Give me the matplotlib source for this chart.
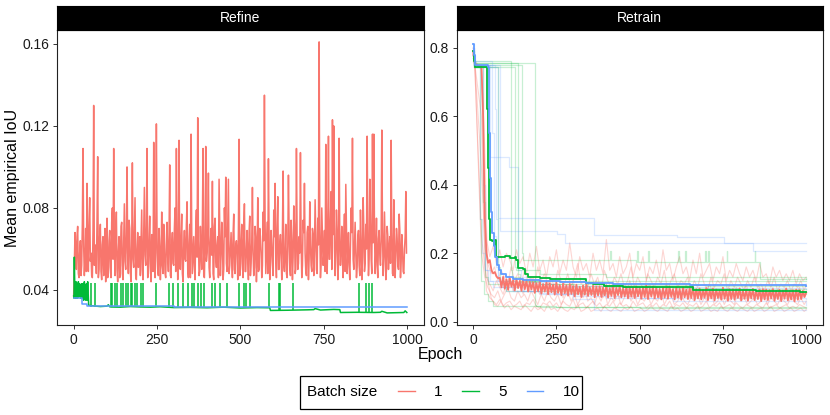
import matplotlib.pyplot as plt
from matplotlib.lines import Line2D
from matplotlib.patches import Rectangle
import numpy as np

plt.rcParams['font.family'] = ['Liberation Sans', 'DejaVu Sans']

ROJO = '#F8766D'
VERDE = '#00BA38'
AZUL = '#619CFF'

# ---------------- panel Refine ----------------
# batch 1: epocas 0,4,8,... y epocas intermedias 2,6,10,...
refine_b1 = [
    0.037, 0.068, 0.050, 0.071, 0.046, 0.064, 0.052, 0.109, 0.047, 0.070,
    0.092, 0.049, 0.085, 0.058, 0.046, 0.130, 0.062, 0.048, 0.105, 0.050,
    0.072, 0.045, 0.066, 0.057, 0.044, 0.075, 0.048, 0.069, 0.046, 0.080,
    0.109, 0.047, 0.078, 0.044, 0.066, 0.052, 0.073, 0.045, 0.082, 0.050,
    0.100, 0.048, 0.070, 0.044, 0.102, 0.051, 0.085, 0.045, 0.068, 0.056,
    0.047, 0.079, 0.045, 0.090, 0.052, 0.109, 0.048, 0.076, 0.044, 0.064,
    0.112, 0.046, 0.121, 0.050, 0.070, 0.045, 0.078, 0.048, 0.062, 0.046,
    0.073, 0.049, 0.101, 0.046, 0.068, 0.052, 0.080, 0.109, 0.045, 0.113,
    0.050, 0.077, 0.044, 0.069, 0.054, 0.083, 0.046, 0.072, 0.116, 0.048,
    0.066, 0.045, 0.079, 0.124, 0.047, 0.071, 0.050, 0.109, 0.046, 0.110,
    0.058, 0.097, 0.046, 0.070, 0.093, 0.045, 0.075, 0.051, 0.066, 0.094,
    0.047, 0.073, 0.045, 0.080, 0.095, 0.049, 0.094, 0.052, 0.068, 0.046,
    0.077, 0.048, 0.064, 0.045, 0.1135, 0.050, 0.072, 0.046, 0.082, 0.049,
    0.069, 0.045, 0.076, 0.053, 0.090, 0.047, 0.071, 0.044, 0.085, 0.050,
    0.066, 0.046, 0.078, 0.135, 0.048, 0.073, 0.104, 0.045, 0.069, 0.052,
    0.079, 0.092, 0.046, 0.0855, 0.050, 0.067, 0.045, 0.098, 0.049, 0.072,
    0.046, 0.096, 0.051, 0.074, 0.045, 0.081, 0.048, 0.109, 0.050, 0.066,
    0.107, 0.046, 0.074, 0.092, 0.049, 0.068, 0.045, 0.083, 0.052, 0.070,
    0.047, 0.084, 0.050, 0.075, 0.161, 0.046, 0.080, 0.052, 0.069, 0.111,
    0.048, 0.115, 0.055, 0.088, 0.123, 0.120, 0.047, 0.079, 0.045, 0.114,
    0.052, 0.071, 0.046, 0.077, 0.0915, 0.048, 0.068, 0.045, 0.080, 0.114,
    0.050, 0.073, 0.046, 0.066, 0.052, 0.079, 0.045, 0.085, 0.049, 0.072,
    0.115, 0.047, 0.094, 0.055, 0.116, 0.116, 0.048, 0.075, 0.046, 0.069,
    0.052, 0.118, 0.047, 0.078, 0.045, 0.071, 0.050, 0.066, 0.113, 0.048,
    0.084, 0.046, 0.070, 0.052, 0.077, 0.046, 0.067, 0.049, 0.060, 0.088,
]
refine_b1_mid = [
    0.052, 0.060, 0.066, 0.048, 0.058, 0.047, 0.072, 0.061, 0.055, 0.049,
    0.063, 0.071, 0.054, 0.047, 0.069, 0.052, 0.058, 0.074, 0.046, 0.066,
    0.049, 0.062, 0.047, 0.070, 0.058, 0.046, 0.064, 0.051, 0.073, 0.055,
    0.061, 0.068, 0.050, 0.059, 0.046, 0.071, 0.048, 0.063, 0.054, 0.067,
    0.058, 0.074, 0.049, 0.062, 0.055, 0.068, 0.047, 0.060, 0.051, 0.066,
    0.063, 0.050, 0.069, 0.057, 0.071, 0.046, 0.064, 0.053, 0.067, 0.049,
    0.070, 0.058, 0.066, 0.047, 0.061, 0.055, 0.052, 0.072, 0.048, 0.064,
    0.056, 0.067, 0.047, 0.062, 0.053, 0.070, 0.049, 0.065, 0.058, 0.051,
    0.066, 0.048, 0.061, 0.055, 0.072, 0.050, 0.063, 0.046, 0.068, 0.057,
    0.052, 0.070, 0.056, 0.064, 0.049, 0.059, 0.073, 0.047, 0.065, 0.054,
    0.068, 0.051, 0.063, 0.057, 0.048, 0.071, 0.055, 0.062, 0.046, 0.069,
    0.057, 0.064, 0.050, 0.066, 0.053, 0.072, 0.048, 0.060, 0.055, 0.067,
    0.050, 0.062, 0.058, 0.069, 0.047, 0.064, 0.053, 0.071, 0.049, 0.060,
    0.055, 0.068, 0.047, 0.063, 0.058, 0.051, 0.066, 0.056, 0.049, 0.070,
    0.058, 0.052, 0.064, 0.073, 0.061, 0.048, 0.067, 0.054, 0.062, 0.047,
    0.066, 0.055, 0.070, 0.050, 0.063, 0.057, 0.068, 0.052, 0.059, 0.048,
    0.061, 0.069, 0.047, 0.064, 0.056, 0.072, 0.050, 0.066, 0.053, 0.058,
    0.064, 0.052, 0.068, 0.058, 0.047, 0.071, 0.055, 0.062, 0.049, 0.067,
    0.059, 0.066, 0.048, 0.062, 0.070, 0.053, 0.065, 0.057, 0.049, 0.072,
    0.063, 0.055, 0.074, 0.050, 0.067, 0.061, 0.058, 0.069, 0.052, 0.064,
    0.060, 0.054, 0.066, 0.049, 0.071, 0.057, 0.052, 0.063, 0.068, 0.055,
    0.062, 0.058, 0.051, 0.069, 0.047, 0.064, 0.056, 0.070, 0.053, 0.060,
    0.067, 0.055, 0.072, 0.048, 0.063, 0.069, 0.058, 0.052, 0.065, 0.057,
    0.064, 0.070, 0.056, 0.061, 0.050, 0.066, 0.059, 0.053, 0.068, 0.047,
    0.062, 0.057, 0.065, 0.050, 0.069, 0.054, 0.060, 0.048, 0.066, 0.058,
]
refine_ep1 = np.arange(0, 1000, 2)
refine_v1 = np.empty(len(refine_ep1))
refine_v1[0::2] = refine_b1
refine_v1[1::2] = refine_b1_mid

# batch 5: linea base + picos
refine_ep5 = [0, 1, 2, 3, 5, 7, 8, 10, 12, 14, 16, 18, 20, 22, 24, 26, 28, 30, 32, 34,
              36, 38, 40, 42, 45, 60, 80, 100, 104, 108, 112, 140, 170, 200, 230,
              260, 300, 350, 400, 450, 500, 550, 588, 590, 640, 700, 720, 724, 740,
              780, 798, 800, 850, 900, 920, 924, 940, 990, 994, 999]
refine_b5 = [0.037, 0.036, 0.056, 0.044, 0.036, 0.044, 0.036, 0.043, 0.036, 0.044,
             0.037, 0.043, 0.036, 0.036, 0.043, 0.036, 0.043, 0.035, 0.044, 0.036,
             0.035, 0.043, 0.035, 0.044, 0.0325, 0.0322, 0.0319, 0.0321, 0.0328, 0.0318,
             0.0317, 0.0316, 0.0319, 0.0317, 0.0316, 0.0318, 0.0314, 0.0315, 0.0313, 0.0316,
             0.0312, 0.0314, 0.0313, 0.0300, 0.0301, 0.0303, 0.0304, 0.0309, 0.0302, 0.0305,
             0.0304, 0.0290, 0.0291, 0.0290, 0.0291, 0.0296, 0.0288, 0.0290, 0.0298, 0.0290]
picos_ep5 = [53, 65, 111, 116, 124, 130, 141, 149, 157, 164, 172, 176, 184, 189, 201,
             208, 248, 286, 298, 313, 327, 342, 355, 362, 372, 382, 392, 415, 425, 440,
             460, 496, 511, 516, 528, 587, 617, 620, 658, 855, 876, 886, 895]
picos_base5 = [0.0318] * 19 + [0.0314] * 17 + [0.0301] * 3 + [0.0291] * 4
pico_top5 = 0.0435

# batch 10
refine_ep10 = [0, 24, 40, 300, 1000]
refine_b10 = [0.036, 0.0333, 0.0322, 0.0318, 0.0318]

# ---------------- panel Retrain ----------------
media_ep1 = np.arange(0, 1001, 5)
media_b1 = [
    0.790, 0.755, 0.750, 0.748, 0.747, 0.745, 0.600, 0.300, 0.200, 0.172, 0.180, 0.150, 0.141, 0.145, 0.132, 0.127,
    0.128, 0.100, 0.131, 0.096, 0.124, 0.093, 0.127, 0.102, 0.121, 0.091, 0.125, 0.098, 0.119, 0.090, 0.123, 0.095, 0.120, 0.088, 0.117, 0.094,
    0.115, 0.084, 0.113, 0.089, 0.118, 0.082, 0.110, 0.088, 0.115, 0.080, 0.112, 0.086, 0.108, 0.079, 0.114, 0.084, 0.107, 0.077, 0.111, 0.083,
    0.107, 0.076, 0.110, 0.081, 0.104, 0.074, 0.108, 0.080, 0.102, 0.072, 0.106, 0.079, 0.109, 0.075, 0.101, 0.078, 0.105, 0.071, 0.103, 0.077,
    0.103, 0.072, 0.100, 0.077, 0.106, 0.070, 0.098, 0.075, 0.102, 0.069, 0.099, 0.078, 0.104, 0.071, 0.097, 0.074, 0.101, 0.068, 0.100, 0.073,
    0.100, 0.069, 0.103, 0.074, 0.098, 0.067, 0.101, 0.072, 0.105, 0.066, 0.097, 0.073, 0.102, 0.068, 0.099, 0.071, 0.096, 0.065, 0.100, 0.070,
    0.098, 0.067, 0.101, 0.072, 0.095, 0.065, 0.099, 0.070, 0.096, 0.064, 0.100, 0.071, 0.094, 0.066, 0.097, 0.069, 0.102, 0.063, 0.095, 0.068,
    0.096, 0.065, 0.093, 0.070, 0.098, 0.063, 0.092, 0.068, 0.097, 0.062, 0.094, 0.069, 0.091, 0.064, 0.099, 0.067, 0.093, 0.061, 0.095, 0.066,
    0.095, 0.064, 0.093, 0.069, 0.097, 0.062, 0.091, 0.067, 0.094, 0.061, 0.092, 0.068, 0.096, 0.063, 0.090, 0.066, 0.093, 0.060, 0.095, 0.065,
    0.094, 0.063, 0.092, 0.068, 0.095, 0.061, 0.090, 0.066, 0.093, 0.060, 0.091, 0.067, 0.096, 0.062, 0.089, 0.065, 0.092, 0.059, 0.094, 0.064,
    0.092, 0.066, 0.090, 0.072, 0.085,
]
media_ep5 = [0, 3, 6, 39, 42, 45, 48, 52, 58, 62, 64, 68, 70, 90, 95, 110, 125, 130, 136,
             150, 155, 166, 200, 230, 337, 340, 360, 392, 450, 520, 600, 661, 750, 850,
             950, 980, 1000]
media_b5 = [0.79, 0.76, 0.745, 0.745, 0.62, 0.45, 0.30, 0.24, 0.235, 0.225, 0.238, 0.235,
            0.19, 0.188, 0.192, 0.186, 0.188, 0.18, 0.158, 0.155, 0.14, 0.13, 0.128, 0.125,
            0.124, 0.112, 0.110, 0.104, 0.102, 0.101, 0.100, 0.093, 0.092, 0.091, 0.090,
            0.087, 0.087]
media_ep10 = [0, 3, 6, 46, 49, 52, 55, 58, 62, 66, 72, 78, 85, 100, 120, 150, 200, 260,
              340, 420, 500, 650, 800, 1000]
media_b10 = [0.81, 0.78, 0.75, 0.745, 0.55, 0.42, 0.32, 0.26, 0.22, 0.19, 0.165, 0.15,
             0.14, 0.13, 0.125, 0.121, 0.118, 0.116, 0.113, 0.111, 0.110, 0.108, 0.106, 0.105]

# corridas individuales, batch 1 (cada 10 epocas; las impares desplazadas 4)
corr_ep1 = np.r_[[0, 5, 25, 35], np.arange(40, 1001, 10)]
corr_ep1b = np.r_[[0, 5, 25, 35], np.arange(44, 1000, 10), [1000]]
corr_b1 = [
    [0.78, 0.75, 0.74, 0.32,
     0.24, 0.19, 0.22, 0.17, 0.21, 0.16, 0.20, 0.18, 0.15, 0.21,
     0.17, 0.19, 0.14, 0.20, 0.16, 0.22, 0.15, 0.18, 0.13, 0.19,
     0.16, 0.21, 0.14, 0.18, 0.15, 0.23, 0.16, 0.13, 0.19, 0.15,
     0.17, 0.13, 0.20, 0.15, 0.18, 0.14, 0.24, 0.15, 0.17, 0.13,
     0.19, 0.14, 0.16, 0.20, 0.13, 0.17, 0.15, 0.19, 0.12, 0.16,
     0.14, 0.18, 0.13, 0.21, 0.15, 0.17, 0.12, 0.16, 0.19, 0.14,
     0.16, 0.12, 0.18, 0.14, 0.20, 0.13, 0.15, 0.17, 0.12, 0.16,
     0.14, 0.19, 0.12, 0.15, 0.13, 0.17, 0.14, 0.12, 0.16, 0.13,
     0.15, 0.12, 0.17, 0.13, 0.14, 0.11, 0.16, 0.13, 0.15, 0.12,
     0.14, 0.12, 0.15, 0.11, 0.14, 0.12, 0.13],
    [0.79, 0.75, 0.45, 0.22,
     0.17, 0.14, 0.16, 0.12, 0.15, 0.13, 0.11, 0.16, 0.12, 0.14,
     0.11, 0.15, 0.12, 0.13, 0.10, 0.16, 0.12, 0.14, 0.11, 0.13,
     0.10, 0.15, 0.12, 0.11, 0.14, 0.10, 0.13, 0.17, 0.11, 0.12,
     0.10, 0.14, 0.11, 0.13, 0.09, 0.15, 0.12, 0.10, 0.13, 0.11,
     0.14, 0.10, 0.12, 0.16, 0.10, 0.13, 0.11, 0.09, 0.14, 0.12,
     0.10, 0.13, 0.11, 0.15, 0.09, 0.12, 0.14, 0.10, 0.12, 0.11,
     0.13, 0.09, 0.12, 0.10, 0.14, 0.11, 0.09, 0.13, 0.10, 0.12,
     0.11, 0.14, 0.09, 0.12, 0.10, 0.13, 0.11, 0.09, 0.12, 0.10,
     0.13, 0.10, 0.11, 0.09, 0.12, 0.10, 0.13, 0.09, 0.11, 0.10,
     0.12, 0.09, 0.11, 0.10, 0.12, 0.09, 0.11],
    [0.78, 0.74, 0.25, 0.16,
     0.13, 0.11, 0.09, 0.12, 0.10, 0.08, 0.11, 0.13, 0.09, 0.10,
     0.12, 0.08, 0.11, 0.09, 0.13, 0.10, 0.08, 0.11, 0.09, 0.12,
     0.10, 0.08, 0.11, 0.07, 0.10, 0.09, 0.12, 0.08, 0.10, 0.07,
     0.11, 0.09, 0.08, 0.12, 0.09, 0.07, 0.10, 0.08, 0.11, 0.09,
     0.07, 0.10, 0.08, 0.12, 0.09, 0.07, 0.10, 0.08, 0.09, 0.11,
     0.08, 0.10, 0.07, 0.09, 0.11, 0.08, 0.10, 0.07, 0.09, 0.08,
     0.11, 0.07, 0.09, 0.08, 0.10, 0.07, 0.09, 0.11, 0.08, 0.09,
     0.07, 0.10, 0.08, 0.09, 0.07, 0.10, 0.08, 0.09, 0.11, 0.07,
     0.09, 0.08, 0.10, 0.07, 0.09, 0.08, 0.10, 0.07, 0.09, 0.08,
     0.10, 0.07, 0.09, 0.08, 0.10, 0.07, 0.09],
    [0.80, 0.75, 0.20, 0.13,
     0.10, 0.08, 0.07, 0.09, 0.06, 0.08, 0.10, 0.07, 0.06, 0.09,
     0.07, 0.08, 0.06, 0.09, 0.07, 0.05, 0.08, 0.06, 0.09, 0.07,
     0.06, 0.08, 0.05, 0.07, 0.09, 0.06, 0.08, 0.05, 0.07, 0.10,
     0.06, 0.07, 0.05, 0.08, 0.06, 0.09, 0.05, 0.07, 0.06, 0.08,
     0.05, 0.07, 0.09, 0.06, 0.08, 0.05, 0.07, 0.06, 0.08, 0.05,
     0.07, 0.06, 0.09, 0.05, 0.07, 0.08, 0.05, 0.06, 0.08, 0.06,
     0.05, 0.07, 0.06, 0.08, 0.05, 0.07, 0.06, 0.09, 0.05, 0.06,
     0.08, 0.05, 0.07, 0.06, 0.05, 0.08, 0.06, 0.07, 0.05, 0.06,
     0.07, 0.05, 0.06, 0.08, 0.05, 0.07, 0.06, 0.05, 0.07, 0.06,
     0.05, 0.07, 0.06, 0.05, 0.07, 0.05, 0.06],
    [0.78, 0.75, 0.60, 0.18,
     0.09, 0.07, 0.06, 0.05, 0.065, 0.045, 0.055, 0.06, 0.045, 0.05,
     0.06, 0.04, 0.055, 0.05, 0.065, 0.045, 0.04, 0.055, 0.05, 0.06,
     0.045, 0.055, 0.04, 0.06, 0.05, 0.045, 0.065, 0.04, 0.05, 0.055,
     0.04, 0.05, 0.06, 0.045, 0.055, 0.04, 0.05, 0.045, 0.06, 0.04,
     0.055, 0.045, 0.05, 0.04, 0.06, 0.045, 0.05, 0.055, 0.04, 0.05,
     0.045, 0.055, 0.04, 0.05, 0.045, 0.06, 0.04, 0.05, 0.045, 0.055,
     0.04, 0.05, 0.045, 0.055, 0.04, 0.045, 0.06, 0.04, 0.05, 0.045,
     0.055, 0.04, 0.045, 0.05, 0.04, 0.055, 0.045, 0.04, 0.05, 0.045,
     0.04, 0.05, 0.045, 0.04, 0.055, 0.04, 0.045, 0.05, 0.04, 0.045,
     0.05, 0.04, 0.045, 0.04, 0.05, 0.045, 0.04],
    [0.79, 0.76, 0.74, 0.50,
     0.12, 0.07, 0.05, 0.045, 0.06, 0.04, 0.05, 0.035, 0.045, 0.04,
     0.035, 0.05, 0.04, 0.03, 0.045, 0.035, 0.04, 0.03, 0.05, 0.035,
     0.04, 0.03, 0.045, 0.035, 0.03, 0.04, 0.035, 0.05, 0.03, 0.035,
     0.045, 0.03, 0.035, 0.04, 0.03, 0.045, 0.035, 0.03, 0.04, 0.035,
     0.03, 0.04, 0.035, 0.045, 0.03, 0.035, 0.04, 0.03, 0.035, 0.045,
     0.035, 0.03, 0.04, 0.035, 0.03, 0.045, 0.035, 0.04, 0.03, 0.035,
     0.04, 0.03, 0.035, 0.045, 0.03, 0.035, 0.04, 0.03, 0.035, 0.03,
     0.045, 0.035, 0.03, 0.04, 0.035, 0.03, 0.04, 0.035, 0.03, 0.04,
     0.03, 0.035, 0.04, 0.03, 0.035, 0.045, 0.03, 0.035, 0.04, 0.03,
     0.035, 0.04, 0.03, 0.035, 0.04, 0.03, 0.035],
]

# corridas individuales, batch 5 (escalones)
corr_b5 = [
    ([0, 4, 113, 116, 140, 200, 300, 400, 600, 800, 1000],
     [0.77, 0.76, 0.15, 0.13, 0.12, 0.11, 0.105, 0.10, 0.098, 0.095, 0.095]),
    ([0, 3, 136, 140, 160, 1000],
     [0.78, 0.755, 0.14, 0.125, 0.12, 0.12]),
    ([0, 4, 146, 150, 412, 414, 489, 492, 494, 526, 528, 616, 618, 636, 638, 696, 698,
      706, 708, 761, 763, 845, 847, 860, 1000],
     [0.77, 0.75, 0.20, 0.18, 0.205, 0.18, 0.175, 0.205, 0.175, 0.205, 0.175, 0.205, 0.175,
      0.205, 0.175, 0.205, 0.175, 0.205, 0.175, 0.205, 0.175, 0.205, 0.175, 0.125, 0.125]),
    ([0, 4, 185, 190, 250, 1000],
     [0.76, 0.755, 0.05, 0.045, 0.042, 0.042]),
    ([0, 3, 20, 25, 32, 45, 60, 200, 500, 1000],
     [0.78, 0.745, 0.30, 0.12, 0.08, 0.06, 0.045, 0.042, 0.040, 0.040]),
    ([0, 4, 75, 80, 130, 200, 400, 700, 1000],
     [0.77, 0.745, 0.16, 0.12, 0.115, 0.11, 0.108, 0.105, 0.105]),
    ([0, 3, 30, 36, 45, 100, 300, 600, 1000],
     [0.79, 0.745, 0.35, 0.13, 0.11, 0.09, 0.085, 0.082, 0.08]),
    ([0, 4, 125, 130, 200, 400, 1000],
     [0.78, 0.745, 0.16, 0.15, 0.14, 0.13, 0.125]),
]

# corridas individuales, batch 10 (escalones)
corr_b10 = [
    ([0, 3, 8, 51, 108, 136, 145, 170, 220, 320, 480, 700, 1000],
     [0.80, 0.76, 0.75, 0.48, 0.452, 0.15, 0.13, 0.115, 0.10, 0.095, 0.09, 0.088, 0.088]),
    ([0, 5, 76, 362, 613, 752, 1000],
     [0.78, 0.745, 0.302, 0.252, 0.246, 0.229, 0.229]),
    ([0, 4, 80, 252, 277, 840, 1000],
     [0.79, 0.75, 0.265, 0.255, 0.229, 0.207, 0.207]),
    ([0, 4, 30, 36, 45, 60, 100, 200, 300, 362, 1000],
     [0.80, 0.75, 0.40, 0.15, 0.12, 0.10, 0.09, 0.08, 0.065, 0.034, 0.034]),
    ([0, 3, 20, 26, 35, 50, 90, 150, 250, 400, 600, 1000],
     [0.79, 0.75, 0.30, 0.20, 0.15, 0.12, 0.10, 0.09, 0.08, 0.07, 0.06, 0.05]),
    ([0, 4, 66, 70, 74, 80, 120, 200, 300, 500, 1000],
     [0.80, 0.75, 0.62, 0.30, 0.13, 0.10, 0.09, 0.085, 0.075, 0.07, 0.065]),
    ([0, 3, 58, 62, 68, 75, 130, 250, 450, 700, 1000],
     [0.81, 0.76, 0.55, 0.25, 0.16, 0.12, 0.11, 0.105, 0.10, 0.097, 0.095]),
]

etiquetas = ['1', '5', '10']

# ---------------- figura ----------------
W, H = 830, 415
fig = plt.figure(figsize=(W / 100, H / 100), dpi=100)


def caja(x0, x1, y0, y1):
    return [x0 / W, 1 - y1 / H, (x1 - x0) / W, (y1 - y0) / H]


ax1 = fig.add_axes(caja(57, 423.5, 30, 325))
ax2 = fig.add_axes(caja(456.5, 822.5, 30, 325))

for ax, titulo, x0, x1 in [(ax1, 'Refine', 57, 423.5), (ax2, 'Retrain', 456.5, 822.5)]:
    tira = fig.add_axes(caja(x0, x1, 6, 30))
    tira.set_facecolor('black')
    tira.set_xticks([])
    tira.set_yticks([])
    tira.text(0.5, 0.5, titulo, color='white', ha='center', va='center', fontsize=10)
    for s in ax.spines.values():
        s.set_linewidth(0.8)
        s.set_color('#222222')
    ax.tick_params(length=3, width=0.7, labelsize=10, pad=2.5, colors='#333333',
                   labelcolor='#1a1a1a')
    ax.set_xlim(-50, 1049)
    ax.set_xticks([0, 250, 500, 750, 1000])

# Refine
ax1.plot(refine_ep1, refine_v1, color=ROJO, lw=1.1)
ax1.plot(refine_ep5, refine_b5, color=VERDE, lw=1.1)
ax1.vlines(picos_ep5, picos_base5, pico_top5, color=VERDE, lw=1.1)
ax1.plot(refine_ep10, refine_b10, color=AZUL, lw=1.1, drawstyle='steps-post')
ax1.set_ylim(0.0229, 0.1668)
ax1.set_yticks([0.04, 0.08, 0.12, 0.16])
ax1.set_yticklabels(['0.04', '0.08', '0.12', '0.16'])

# Retrain
for i, v in enumerate(corr_b1):
    ax2.plot(corr_ep1 if i % 2 == 0 else corr_ep1b, v, color=ROJO, lw=0.8, alpha=0.3)
for e, v in corr_b5:
    ax2.plot(e, v, color=VERDE, lw=0.9, alpha=0.22, drawstyle='steps-post')
for e, v in corr_b10:
    ax2.plot(e, v, color=AZUL, lw=0.9, alpha=0.22, drawstyle='steps-post')
ax2.plot(media_ep1, media_b1, color=ROJO, lw=1.3)
ax2.plot(media_ep5, media_b5, color=VERDE, lw=1.3, drawstyle='steps-post')
ax2.plot(media_ep10, media_b10, color=AZUL, lw=1.3, drawstyle='steps-post')
ax2.set_ylim(-0.0097, 0.852)
ax2.set_yticks([0.0, 0.2, 0.4, 0.6, 0.8])
ax2.set_yticklabels(['0.0', '0.2', '0.4', '0.6', '0.8'])

# titulos de ejes
fig.text(440 / W, 1 - 354 / H, 'Epoch', ha='center', va='center', fontsize=11.5)
fig.text(13 / W, 1 - 177.5 / H, 'Mean empirical IoU', ha='center', va='center',
         rotation=90, fontsize=11.5)

# leyenda
fig.patches.append(Rectangle((300 / W, 1 - 409 / H), 282 / W, 33 / H,
                             transform=fig.transFigure, fill=False, ec='black', lw=0.9))
fig.text(307 / W, 1 - 392 / H, 'Batch size', ha='left', va='center', fontsize=11)
manijas = [Line2D([], [], color=c, lw=1) for c in (ROJO, VERDE, AZUL)]
fig.legend(manijas, etiquetas, ncol=3, loc='center left',
           bbox_to_anchor=(398 / W, 1 - 392 / H), frameon=False, fontsize=11,
           handlelength=1.1, handletextpad=1.25, columnspacing=1.3,
           borderpad=0, borderaxespad=0)

fig.savefig('out.png', dpi=100)
